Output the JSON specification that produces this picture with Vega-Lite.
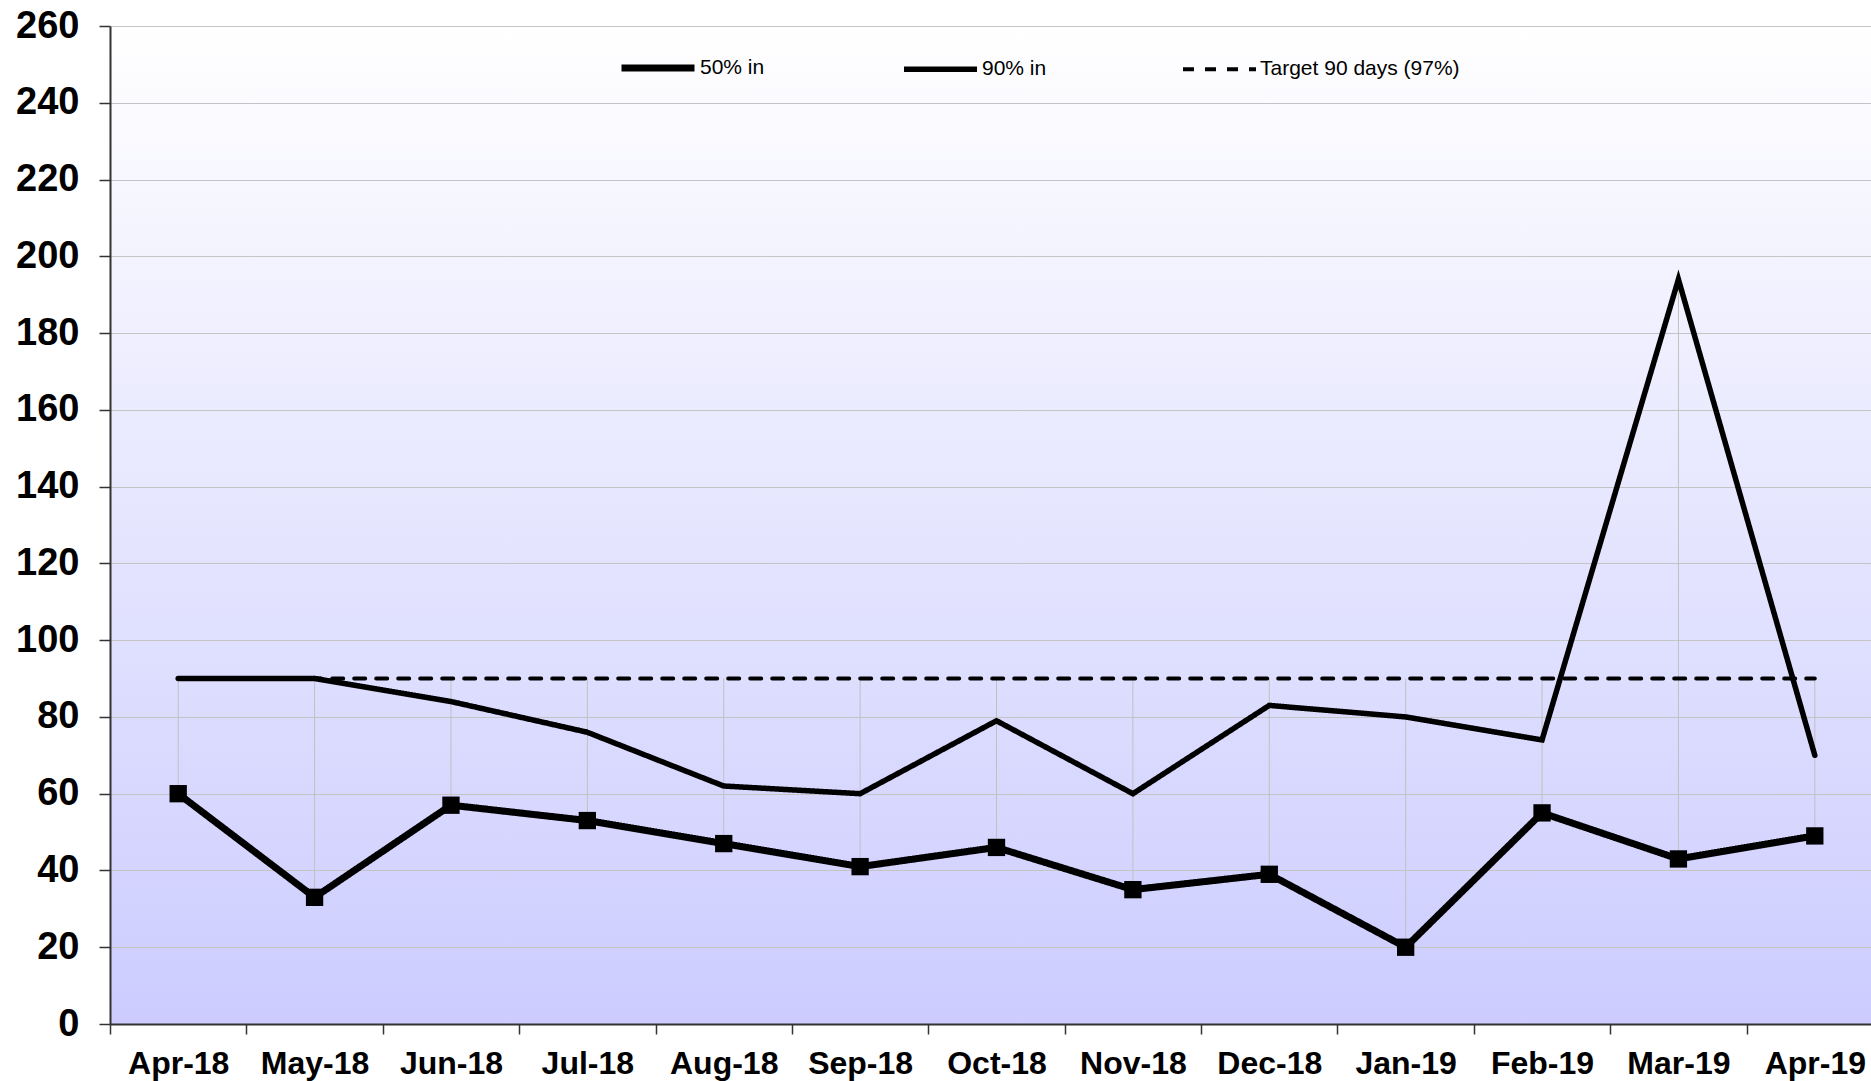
{
  "$schema": "https://vega.github.io/schema/vega-lite/v6.json",
  "autosize": {"type": "none"},
  "padding": {"left": 110, "top": 26, "right": 0, "bottom": 57},
  "width": 1761,
  "height": 998,
  "config": {
    "view": {
      "stroke": null,
      "fill": {"gradient": "linear", "x1": 0, "y1": 0, "x2": 0, "y2": 1, "stops": [{"offset": 0, "color": "#ffffff"}, {"offset": 1, "color": "#ccccff"}]}
    },
    "font": "Liberation Sans"
  },
  "data": {
    "values": [
      {"month": "Apr-18", "series": "50% in", "value": 60},
      {"month": "May-18", "series": "50% in", "value": 33},
      {"month": "Jun-18", "series": "50% in", "value": 57},
      {"month": "Jul-18", "series": "50% in", "value": 53},
      {"month": "Aug-18", "series": "50% in", "value": 47},
      {"month": "Sep-18", "series": "50% in", "value": 41},
      {"month": "Oct-18", "series": "50% in", "value": 46},
      {"month": "Nov-18", "series": "50% in", "value": 35},
      {"month": "Dec-18", "series": "50% in", "value": 39},
      {"month": "Jan-19", "series": "50% in", "value": 20},
      {"month": "Feb-19", "series": "50% in", "value": 55},
      {"month": "Mar-19", "series": "50% in", "value": 43},
      {"month": "Apr-19", "series": "50% in", "value": 49},
      {"month": "Apr-18", "series": "90% in", "value": 90},
      {"month": "May-18", "series": "90% in", "value": 90},
      {"month": "Jun-18", "series": "90% in", "value": 84},
      {"month": "Jul-18", "series": "90% in", "value": 76},
      {"month": "Aug-18", "series": "90% in", "value": 62},
      {"month": "Sep-18", "series": "90% in", "value": 60},
      {"month": "Oct-18", "series": "90% in", "value": 79},
      {"month": "Nov-18", "series": "90% in", "value": 60},
      {"month": "Dec-18", "series": "90% in", "value": 83},
      {"month": "Jan-19", "series": "90% in", "value": 80},
      {"month": "Feb-19", "series": "90% in", "value": 74},
      {"month": "Mar-19", "series": "90% in", "value": 194},
      {"month": "Apr-19", "series": "90% in", "value": 70},
      {"month": "Apr-18", "series": "Target 90 days (97%)", "value": 90},
      {"month": "May-18", "series": "Target 90 days (97%)", "value": 90},
      {"month": "Jun-18", "series": "Target 90 days (97%)", "value": 90},
      {"month": "Jul-18", "series": "Target 90 days (97%)", "value": 90},
      {"month": "Aug-18", "series": "Target 90 days (97%)", "value": 90},
      {"month": "Sep-18", "series": "Target 90 days (97%)", "value": 90},
      {"month": "Oct-18", "series": "Target 90 days (97%)", "value": 90},
      {"month": "Nov-18", "series": "Target 90 days (97%)", "value": 90},
      {"month": "Dec-18", "series": "Target 90 days (97%)", "value": 90},
      {"month": "Jan-19", "series": "Target 90 days (97%)", "value": 90},
      {"month": "Feb-19", "series": "Target 90 days (97%)", "value": 90},
      {"month": "Mar-19", "series": "Target 90 days (97%)", "value": 90},
      {"month": "Apr-19", "series": "Target 90 days (97%)", "value": 90}
    ]
  },
  "encoding": {
    "x": {
      "field": "month",
      "type": "ordinal",
      "sort": null,
      "bandPosition": 0.5,
      "scale": {"type": "band", "paddingInner": 0, "paddingOuter": 0, "range": [0, 1773]},
      "axis": {
        "title": null,
        "labelAngle": 0,
        "tickBand": "extent",
        "labelFont": "Liberation Sans",
        "labelFontSize": 32,
        "labelFontWeight": "bold",
        "labelColor": "#000000",
        "labelPadding": 14,
        "tickSize": 10,
        "tickColor": "#333333",
        "tickWidth": 1.5,
        "domainColor": "#333333",
        "domainWidth": 2,
        "grid": false
      }
    }
  },
  "layer": [
    {
      "mark": {"type": "rule", "color": "#c0c0c0", "strokeWidth": 1},
      "encoding": {
        "y": {"aggregate": "min", "field": "value", "type": "quantitative"},
        "y2": {"aggregate": "max", "field": "value"}
      }
    },
    {
      "mark": {"type": "line", "color": "#000000", "strokeJoin": "miter", "strokeCap": "round"},
      "encoding": {
        "y": {
          "field": "value",
          "type": "quantitative",
          "scale": {"domain": [0, 260], "nice": false},
          "axis": {
            "title": null,
            "values": [0, 20, 40, 60, 80, 100, 120, 140, 160, 180, 200, 220, 240, 260],
            "labelFont": "Liberation Sans",
            "labelFontSize": 38,
            "labelFontWeight": "bold",
            "labelColor": "#000000",
            "labelPadding": 20,
            "tickSize": 11,
            "tickColor": "#333333",
            "tickWidth": 1.5,
            "domainColor": "#333333",
            "domainWidth": 2,
            "gridColor": "#c4c4c4",
            "gridWidth": 1
          }
        },
        "detail": {"field": "series"},
        "strokeWidth": {
          "field": "series",
          "type": "ordinal",
          "scale": {"domain": ["50% in", "90% in", "Target 90 days (97%)"], "range": [7, 4, 5]},
          "legend": {
            "title": null,
            "orient": "none",
            "direction": "horizontal",
            "legendX": 508,
            "legendY": 2,
            "symbolType": "stroke",
            "symbolSize": 5329,
            "symbolStrokeColor": "#000000",
            "labelFont": "Liberation Sans",
            "labelFontSize": 21,
            "labelColor": "#000000",
            "labelOffset": 2,
            "labelLimit": 400,
            "columnPadding": 128
          }
        },
        "strokeDash": {
          "field": "series",
          "type": "ordinal",
          "scale": {"domain": ["50% in", "90% in", "Target 90 days (97%)"], "range": [[1, 0], [1, 0], [11, 11]]},
          "legend": {
            "title": null,
            "orient": "none",
            "direction": "horizontal",
            "legendX": 508,
            "legendY": 2,
            "symbolType": "stroke",
            "symbolSize": 5329,
            "symbolStrokeColor": "#000000",
            "labelFont": "Liberation Sans",
            "labelFontSize": 21,
            "labelColor": "#000000",
            "labelOffset": 2,
            "labelLimit": 400,
            "columnPadding": 128
          }
        }
      }
    },
    {
      "transform": [{"filter": "datum.series === '50% in'"}],
      "mark": {"type": "point", "shape": "square", "filled": true, "color": "#000000", "size": 300, "opacity": 1},
      "encoding": {
        "y": {"field": "value", "type": "quantitative"}
      }
    }
  ]
}
